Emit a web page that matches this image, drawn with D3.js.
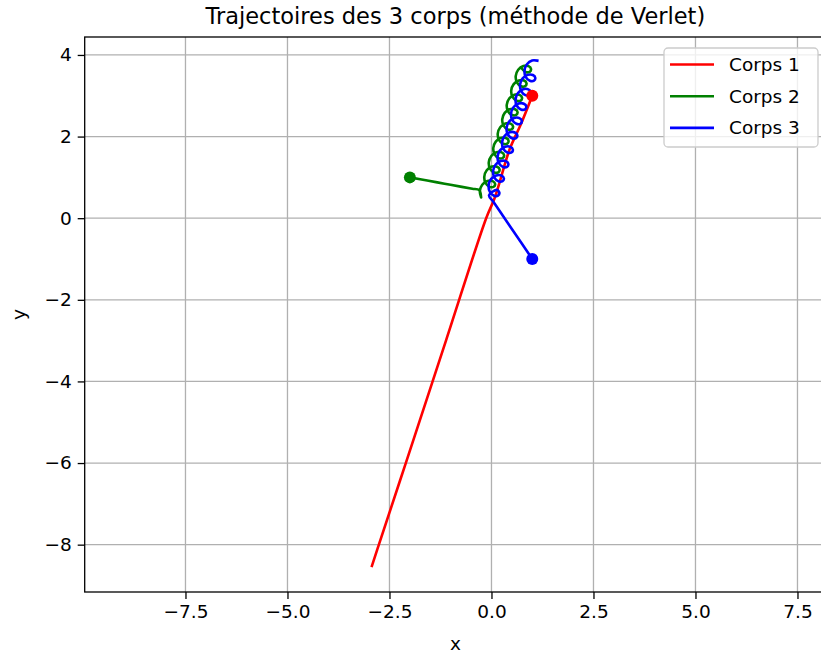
<!DOCTYPE html>
<html>
<head>
<meta charset="utf-8">
<script src="https://cdn.jsdelivr.net/npm/d3@7"></script>
<style>
  html, body { margin: 0; padding: 0; background: #fff; }
  svg { display: block; font-family: "DejaVu Sans", sans-serif; }
</style>
</head>
<body>
<svg id="chart" width="821" height="657"></svg>
<script>
// Trajectoires (x, y) des trois corps
const corps1 = [
  [1.00, 3.00], [0.72, 2.30], [0.45, 1.70], [0.08, 0.50], [-0.13, 0.00],
  [-1.115, -3.00], [-2.10, -6.00], [-2.76, -8.00], [-2.93, -8.52]
];

const corps2 = [
  [-2.00, 1.00], [-1.575, 0.923], [-1.15, 0.845], [-0.725, 0.768], [-0.47, 0.721], [-0.30, 0.69],
  [-0.253, 0.507], [-0.286, 0.664], [-0.226, 0.821], [-0.099, 0.912], [0.028, 0.909], [0.089, 0.840], [0.055, 0.771], [-0.044, 0.768],
  [-0.143, 0.859], [-0.176, 1.016], [-0.116, 1.173], [0.011, 1.264], [0.138, 1.261], [0.199, 1.192], [0.166, 1.123], [0.066, 1.120],
  [-0.033, 1.211], [-0.066, 1.368], [-0.005, 1.525], [0.121, 1.616], [0.248, 1.613], [0.309, 1.544], [0.276, 1.475], [0.176, 1.472],
  [0.077, 1.563], [0.044, 1.720], [0.105, 1.877], [0.231, 1.968], [0.358, 1.965], [0.419, 1.896], [0.386, 1.827], [0.286, 1.824],
  [0.187, 1.915], [0.154, 2.072], [0.215, 2.229], [0.341, 2.320], [0.468, 2.317], [0.529, 2.248], [0.496, 2.179], [0.396, 2.176],
  [0.297, 2.267], [0.264, 2.424], [0.325, 2.581], [0.451, 2.672], [0.578, 2.669], [0.639, 2.600], [0.606, 2.531], [0.506, 2.528],
  [0.407, 2.619], [0.374, 2.776], [0.435, 2.933], [0.561, 3.024], [0.688, 3.021], [0.749, 2.952], [0.716, 2.883], [0.616, 2.880],
  [0.517, 2.971], [0.484, 3.128], [0.545, 3.285], [0.671, 3.376], [0.798, 3.373], [0.859, 3.304], [0.826, 3.235], [0.726, 3.232],
  [0.627, 3.323], [0.594, 3.480], [0.655, 3.637], [0.781, 3.728], [0.908, 3.725], [0.969, 3.656], [0.936, 3.587], [0.836, 3.584],
  [0.737, 3.675]
];

const corps3 = [
  [1.00, -1.00], [0.735, -0.61], [0.47, -0.22], [0.205, 0.17], [0.046, 0.404], [-0.06, 0.56],
  [0.133, 0.693], [0.194, 0.624], [0.160, 0.555], [0.061, 0.552], [-0.038, 0.643], [-0.071, 0.800], [-0.011, 0.957], [0.116, 1.048],
  [0.243, 1.045], [0.304, 0.976], [0.270, 0.907], [0.171, 0.904], [0.072, 0.995], [0.039, 1.152], [0.100, 1.309], [0.226, 1.400],
  [0.353, 1.397], [0.414, 1.328], [0.381, 1.259], [0.281, 1.256], [0.182, 1.347], [0.149, 1.504], [0.210, 1.661], [0.336, 1.752],
  [0.463, 1.749], [0.524, 1.680], [0.491, 1.611], [0.391, 1.608], [0.292, 1.699], [0.259, 1.856], [0.320, 2.013], [0.446, 2.104],
  [0.573, 2.101], [0.634, 2.032], [0.601, 1.963], [0.501, 1.960], [0.402, 2.051], [0.369, 2.208], [0.430, 2.365], [0.556, 2.456],
  [0.683, 2.453], [0.744, 2.384], [0.711, 2.315], [0.611, 2.312], [0.512, 2.403], [0.479, 2.560], [0.540, 2.717], [0.666, 2.808],
  [0.793, 2.805], [0.854, 2.736], [0.821, 2.667], [0.721, 2.664], [0.622, 2.755], [0.589, 2.912], [0.650, 3.069], [0.776, 3.160],
  [0.903, 3.157], [0.964, 3.088], [0.931, 3.019], [0.831, 3.016], [0.732, 3.107], [0.699, 3.264], [0.760, 3.421], [0.886, 3.512],
  [1.013, 3.509], [1.074, 3.440], [1.041, 3.371], [0.941, 3.368], [0.842, 3.459], [0.809, 3.616], [0.870, 3.773], [0.996, 3.864],
  [1.123, 3.861]
];

// Positions initiales
const positionsInitiales = [[1, 3], [-2, 1], [1, -1]];

const nomsCorps = ["Corps 1", "Corps 2", "Corps 3"];
const couleurs = ["red", "green", "blue"];

const xTicks = [-7.5, -5.0, -2.5, 0.0, 2.5, 5.0, 7.5];
const xTickLabels = ["\u22127.5", "\u22125.0", "\u22122.5", "0.0", "2.5", "5.0", "7.5"];
const yTicks = [-8, -6, -4, -2, 0, 2, 4];
const yTickLabels = ["\u22128", "\u22126", "\u22124", "\u22122", "0", "2", "4"];

const titre = "Trajectoires des 3 corps (m\u00e9thode de Verlet)";

// Zone de tracé (repère orthonormé : même échelle en x et en y)
const zGauche = 84.7, zHaut = 37, zBas = 592;
const unite = 40.8;
const xMin = -9.97, yMin = -9.16, yMax = 4.44;
const xMax = xMin + 18.17;
const zDroite = zGauche + (xMax - xMin) * unite;

const svg = d3.select("#chart");
const x = d3.scaleLinear().domain([xMin, xMax]).range([zGauche, zDroite]);
const y = d3.scaleLinear().domain([yMin, yMax]).range([zBas, zHaut]);

svg.append("defs").append("clipPath").attr("id", "zone")
  .append("rect").attr("x", zGauche).attr("y", zHaut)
  .attr("width", zDroite - zGauche).attr("height", zBas - zHaut);

// Grille
const grille = svg.append("g");
grille.selectAll("line.gx").data(xTicks).join("line")
  .attr("x1", d => x(d)).attr("x2", d => x(d))
  .attr("y1", zHaut).attr("y2", zBas)
  .attr("stroke", "#b0b0b0").attr("stroke-width", 1.3);
grille.selectAll("line.gy").data(yTicks).join("line")
  .attr("x1", zGauche).attr("x2", zDroite)
  .attr("y1", d => y(d)).attr("y2", d => y(d))
  .attr("stroke", "#b0b0b0").attr("stroke-width", 1.3);

// Trajectoires
const ligne = d3.line()
  .x(d => x(d[0])).y(d => y(d[1]))
  .curve(d3.curveCatmullRom.alpha(0.5));

const traces = svg.append("g").attr("clip-path", "url(#zone)");
[corps1, corps2, corps3].forEach((serie, i) => {
  traces.append("path")
    .attr("d", ligne(serie))
    .attr("fill", "none")
    .attr("stroke", couleurs[i])
    .attr("stroke-width", 2.6)
    .attr("stroke-linejoin", "round")
    .attr("stroke-linecap", "square");
});

// Points de départ
traces.selectAll("circle").data(positionsInitiales).join("circle")
  .attr("cx", d => x(d[0])).attr("cy", d => y(d[1]))
  .attr("r", 6)
  .attr("fill", (d, i) => couleurs[i]);

// Axes
const axeX = d3.axisBottom(x).tickValues(xTicks)
  .tickFormat((d, i) => xTickLabels[i]).tickSize(7).tickPadding(6);
const axeY = d3.axisLeft(y).tickValues(yTicks)
  .tickFormat((d, i) => yTickLabels[i]).tickSize(7).tickPadding(6);

const gx = svg.append("g").attr("transform", `translate(0,${zBas})`).call(axeX);
const gy = svg.append("g").attr("transform", `translate(${zGauche},0)`).call(axeY);
[gx, gy].forEach(g => {
  g.select(".domain").remove();
  g.selectAll(".tick line").attr("stroke", "#000").attr("stroke-width", 1.3);
  g.selectAll(".tick text").attr("fill", "#000")
    .style("font-family", "DejaVu Sans").style("font-size", "18.5px");
});

// Cadre
svg.append("rect")
  .attr("x", zGauche).attr("y", zHaut)
  .attr("width", zDroite - zGauche).attr("height", zBas - zHaut)
  .attr("fill", "none").attr("stroke", "#000").attr("stroke-width", 1.3);

// Titre et libellés des axes
svg.append("text").attr("x", (zGauche + zDroite) / 2).attr("y", 24)
  .attr("text-anchor", "middle").style("font-size", "22.5px").attr("fill", "#000")
  .text(titre);
svg.append("text").attr("x", (zGauche + zDroite) / 2).attr("y", 650)
  .attr("text-anchor", "middle").style("font-size", "18.5px").attr("fill", "#000")
  .text("x");
svg.append("text")
  .attr("transform", `translate(25,${(zHaut + zBas) / 2}) rotate(-90)`)
  .attr("text-anchor", "middle").style("font-size", "18.5px").attr("fill", "#000")
  .text("y");

// Légende
const leg = svg.append("g").attr("transform", "translate(664,48)");
leg.append("rect").attr("width", 154).attr("height", 99)
  .attr("rx", 4).attr("ry", 4)
  .attr("fill", "#fff").attr("fill-opacity", 0.8)
  .attr("stroke", "#cccccc").attr("stroke-width", 1.3);
nomsCorps.forEach((nom, i) => {
  const yy = 16.5 + i * 31.7;
  leg.append("line").attr("x1", 6).attr("x2", 50)
    .attr("y1", yy).attr("y2", yy)
    .attr("stroke", couleurs[i]).attr("stroke-width", 2.6);
  leg.append("text").attr("x", 65).attr("y", yy + 6.5)
    .style("font-size", "18.5px").attr("fill", "#000")
    .text(nom);
});
</script>
</body>
</html>
